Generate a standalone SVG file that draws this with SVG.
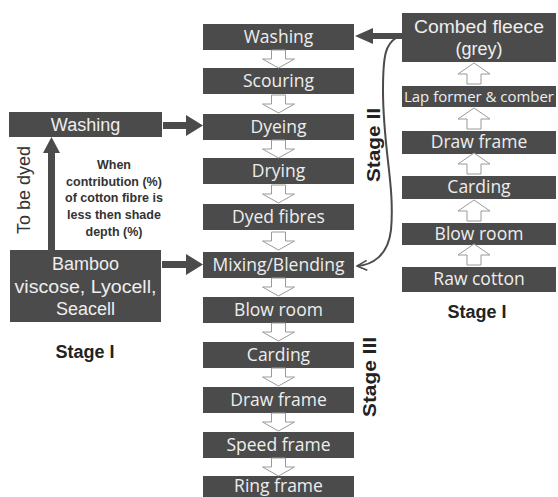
<svg xmlns="http://www.w3.org/2000/svg" width="558" height="497" viewBox="0 0 558 497">
<defs>
<style>
.box{fill:#4b4b4b}
.t{fill:#eeeeee;font-family:"Open Sans",sans-serif;font-size:17.5px;text-anchor:middle}
.ta{fill:#eeeeee;font-family:"Liberation Sans",Arial,sans-serif;font-size:18px;text-anchor:middle}
.hol{fill:#ffffff;stroke:#9a9a9a;stroke-width:1}
.solid{fill:#4b4b4b}
.stage{fill:#222;font-family:"Liberation Sans",Arial,sans-serif;font-weight:bold;font-size:18px;text-anchor:middle}
.note{fill:#333;font-family:"Liberation Sans",Arial,sans-serif;font-weight:bold;font-size:12.5px;text-anchor:middle}
</style>
<path id="darr" d="M-7 0H7V9H16L0 18L-16 9H-7Z"/>
<path id="uarr" d="M-7 0V-10H-16L0-21L16-10H7V0Z"/>
<marker id="open" viewBox="0 0 12 12" refX="11" refY="6" markerWidth="12" markerHeight="12" markerUnits="userSpaceOnUse" orient="auto">
<path d="M1 1L11 6L1 11" fill="none" stroke="#4b4b4b" stroke-width="1.6"/>
</marker>
</defs>

<g id="c-washing"><rect class="box" x="203" y="24" width="151" height="26"/><text class="t" x="278.5" y="43">Washing</text></g>
<g id="c-scouring"><rect class="box" x="203" y="68" width="151" height="26"/><text class="t" x="278.5" y="87">Scouring</text></g>
<g id="c-dyeing"><rect class="box" x="203" y="114" width="151" height="26"/><text class="t" x="278.5" y="133">Dyeing</text></g>
<g id="c-drying"><rect class="box" x="203" y="158" width="151" height="26"/><text class="t" x="278.5" y="177">Drying</text></g>
<g id="c-dyed"><rect class="box" x="203" y="204" width="151" height="26"/><text class="t" x="278.5" y="223">Dyed fibres</text></g>
<g id="c-mixing"><rect class="box" x="203" y="252" width="151" height="26"/><text class="t" x="278.5" y="271">Mixing/Blending</text></g>
<g id="c-blowroom"><rect class="box" x="203" y="297" width="151" height="26"/><text class="t" x="278.5" y="316">Blow room</text></g>
<g id="c-carding"><rect class="box" x="203" y="342" width="151" height="26"/><text class="t" x="278.5" y="361">Carding</text></g>
<g id="c-drawframe"><rect class="box" x="203" y="387" width="151" height="26"/><text class="t" x="278.5" y="406">Draw frame</text></g>
<g id="c-speedframe"><rect class="box" x="203" y="432" width="151" height="26"/><text class="t" x="278.5" y="451">Speed frame</text></g>
<g id="c-ringframe"><rect class="box" x="203" y="476" width="151" height="26"/><text class="t" x="278.5" y="492">Ring frame</text></g>

<g id="l-washing"><rect class="box" x="9" y="112" width="153" height="25"/><text class="ta" x="85.5" y="131">Washing</text></g>
<g id="l-bamboo"><rect class="box" x="10" y="250" width="151" height="72"/>
<text class="ta" x="85.5" y="270">Bamboo</text>
<text class="ta" x="85.5" y="293" textLength="142" lengthAdjust="spacingAndGlyphs">viscose, Lyocell,</text>
<text class="ta" x="85.5" y="315">Seacell</text></g>

<g id="r-combed"><rect class="box" x="402" y="13" width="154" height="49"/>
<text class="ta" x="479" y="33" textLength="130" lengthAdjust="spacingAndGlyphs">Combed fleece</text>
<text class="ta" x="479" y="55">(grey)</text></g>
<g id="r-lap"><rect class="box" x="402" y="86" width="154" height="21"/><text class="t" x="479" y="102" style="font-size:15px" textLength="150" lengthAdjust="spacingAndGlyphs">Lap former &amp; comber</text></g>
<g id="r-drawframe"><rect class="box" x="402" y="131" width="154" height="23"/><text class="t" x="479" y="148">Draw frame</text></g>
<g id="r-carding"><rect class="box" x="402" y="176" width="154" height="23"/><text class="t" x="479" y="193">Carding</text></g>
<g id="r-blowroom"><rect class="box" x="402" y="223" width="154" height="22"/><text class="t" x="479" y="240">Blow room</text></g>
<g id="r-raw"><rect class="box" x="402" y="267" width="154" height="25"/><text class="t" x="479" y="285">Raw cotton</text></g>

<g id="connectors">
<use href="#darr" class="hol" x="278.5" y="50"/>
<use href="#darr" class="hol" x="278.5" y="95"/>
<use href="#darr" class="hol" x="278.5" y="140"/>
<use href="#darr" class="hol" x="278.5" y="185"/>
<use href="#darr" class="hol" x="278.5" y="232"/>
<use href="#darr" class="hol" x="278.5" y="278"/>
<use href="#darr" class="hol" x="278.5" y="323"/>
<use href="#darr" class="hol" x="278.5" y="368"/>
<use href="#darr" class="hol" x="278.5" y="413"/>
<use href="#darr" class="hol" x="278.5" y="458"/>

<use href="#uarr" class="hol" x="474" y="84"/>
<use href="#uarr" class="hol" x="474" y="129"/>
<use href="#uarr" class="hol" x="474" y="174"/>
<use href="#uarr" class="hol" x="474" y="221"/>
<use href="#uarr" class="hol" x="474" y="265"/>

<polygon class="solid" points="163,122 186,122 186,115 203,125.5 186,136 186,129 163,129"/>
<polygon class="solid" points="162,261 186,261 186,254 203,264.5 186,275 186,268 162,268"/>
<polygon class="solid" points="48,250 48,153 43,153 51.5,137 60,153 55,153 55,250"/>
<polygon class="solid" points="402,33 373,33 373,28 355,36 373,44 373,39 402,39"/>
<path d="M396 38C386 44 383 54 383 90C383 150 395 185 391 230C388 256 372 265 357 266" fill="none" stroke="#4b4b4b" stroke-width="2" marker-end="url(#open)"/>
</g>

<g id="labels">
<text class="stage" x="85" y="358">Stage I</text>
<text class="stage" x="477" y="318">Stage I</text>
<text class="stage" transform="translate(380,145) rotate(-90)" textLength="74" lengthAdjust="spacingAndGlyphs">Stage II</text>
<text class="stage" transform="translate(376,377) rotate(-90)" textLength="80" lengthAdjust="spacingAndGlyphs">Stage III</text>
<text transform="translate(30,190) rotate(-90)" style="fill:#333;font-family:'Liberation Sans',Arial,sans-serif;font-size:18px;text-anchor:middle">To be dyed</text>
<text class="note" x="114" y="169">When</text>
<text class="note" x="114" y="186">contribution (%)</text>
<text class="note" x="114" y="202">of cotton fibre is</text>
<text class="note" x="114" y="219">less then shade</text>
<text class="note" x="114" y="236">depth (%)</text>
</g>
</svg>
